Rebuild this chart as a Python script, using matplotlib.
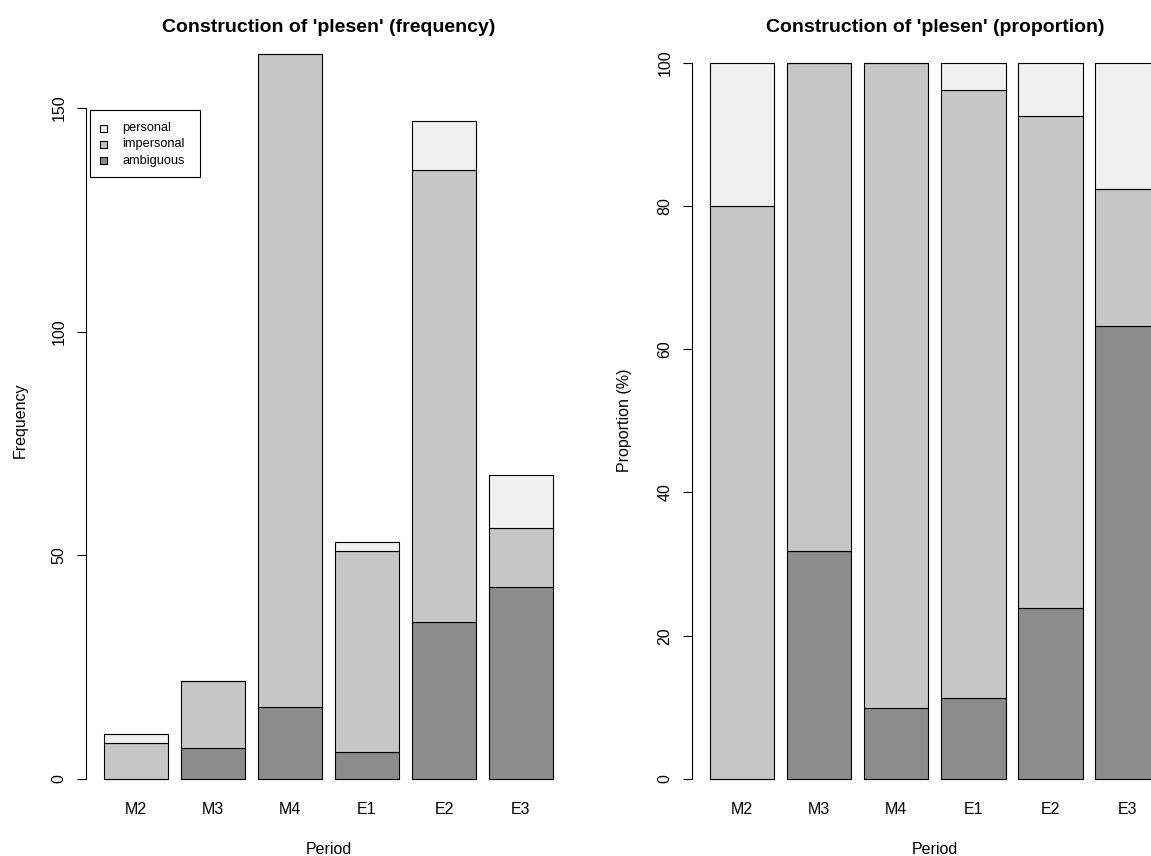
import numpy as np
import matplotlib
matplotlib.use("Agg")
import matplotlib.pyplot as plt
from matplotlib.patches import Rectangle

plt.rcParams["font.family"] = ["Liberation Sans", "DejaVu Sans"]

# counts of 'plesen' constructions per period
periods = ["M2", "M3", "M4", "E1", "E2", "E3"]
ambiguous = [0, 7, 16, 6, 35, 43]
impersonal = [8, 15, 146, 45, 101, 13]
personal = [2, 0, 0, 2, 11, 12]

categories = ["ambiguous", "impersonal", "personal"]
colors = {"ambiguous": "#8c8c8c", "impersonal": "#c6c6c6", "personal": "#f0f0f0"}
legend_order = ["personal", "impersonal", "ambiguous"]

W, H = 1151, 856
fig = plt.figure(figsize=(W / 100, H / 100), dpi=100)


def fx(px):
    return px / W


def fy(py):
    return 1 - py / H


def stacked_bars(ax, series):
    # barplot-style positions: width 1, space 0.2
    x = 0.2 + np.arange(len(periods)) * 1.2 + 0.5
    bottom = np.zeros(len(periods))
    for name in categories:
        vals = np.asarray(series[name], dtype=float)
        ax.bar(x, vals, width=1.0, bottom=bottom, color=colors[name],
               edgecolor="black", linewidth=0.8)
        bottom += vals
    ax.set_xticks(x)
    ax.set_xticklabels(periods)
    ax.set_xlim(-0.08, 7.48)


def style_axis(ax, yticks):
    for s in ["top", "right", "bottom"]:
        ax.spines[s].set_visible(False)
    ax.spines["left"].set_bounds(yticks[0], yticks[-1])
    ax.spines["left"].set_linewidth(0.8)
    ax.set_yticks(yticks)
    ax.tick_params(axis="y", length=6.5, width=0.8, pad=7.5, labelsize=11.5,
                   labelrotation=90)
    for lab in ax.get_yticklabels():
        lab.set_verticalalignment("center")
    ax.tick_params(axis="x", length=0, pad=8.5, labelsize=11.5)


box_top, box_bot, zero_px = 40, 790, 779

# left panel: frequencies
ax1 = fig.add_axes([fx(86), fy(box_bot), fx(485), (box_bot - box_top) / H])
counts = {"ambiguous": ambiguous, "impersonal": impersonal, "personal": personal}
stacked_bars(ax1, counts)
sc1 = 4.475
ax1.set_ylim(-(box_bot - zero_px) / sc1, (zero_px - box_top) / sc1)
style_axis(ax1, [0, 50, 100, 150])

# right panel: proportions in percent
totals = np.array(ambiguous) + np.array(impersonal) + np.array(personal)
props = {k: 100 * np.array(v) / totals for k, v in counts.items()}
ax2 = fig.add_axes([fx(692), fy(box_bot), fx(485.7), (box_bot - box_top) / H])
stacked_bars(ax2, props)
sc2 = 7.163
ax2.set_ylim(-(box_bot - zero_px) / sc2, (zero_px - box_top) / sc2)
style_axis(ax2, [0, 20, 40, 60, 80, 100])

# titles and axis labels
for cx, title, ylab, ylx in [(329, "Construction of 'plesen' (frequency)", "Frequency", 20),
                              (935, "Construction of 'plesen' (proportion)", "Proportion (%)", 625)]:
    fig.text(fx(cx), fy(27), title, ha="center", va="center",
             fontsize=14, fontweight="bold")
    fig.text(fx(cx), fy(850), "Period", ha="center", va="center", fontsize=11.5)
    fig.text(fx(ylx), fy(420), ylab, ha="center", va="center",
             rotation=90, fontsize=11.5)

# legend box in the left panel
fig.add_artist(Rectangle((fx(89.5), fy(176.5)), fx(110), (176.5 - 109.5) / H,
                         transform=fig.transFigure, facecolor="white",
                         edgecolor="black", linewidth=0.8))
for i, name in enumerate(legend_order):
    cy = 128.3 + i * 16.2
    fig.add_artist(Rectangle((fx(100), fy(cy + 3.5)), fx(7), 7 / H,
                             transform=fig.transFigure, facecolor=colors[name],
                             edgecolor="black", linewidth=0.8))
    fig.text(fx(122.5), fy(cy), name, ha="left", va="center", fontsize=9.2)

fig.savefig("out.png", dpi=100)
